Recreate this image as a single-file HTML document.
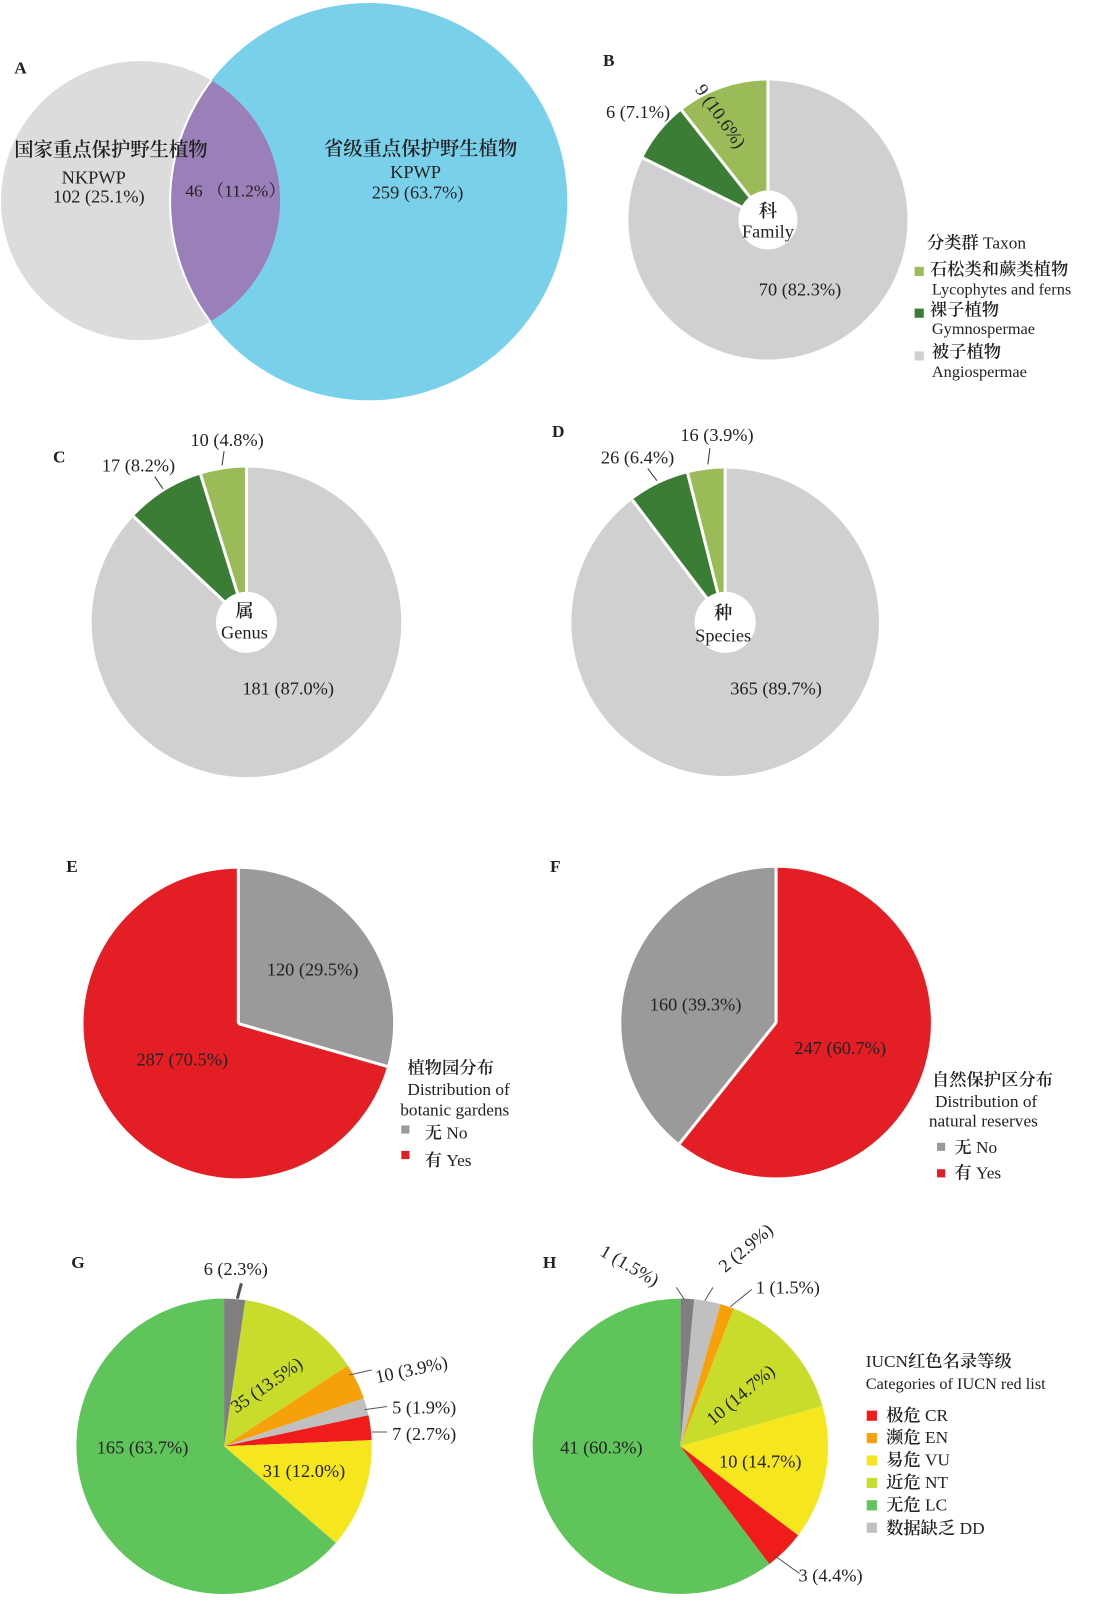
<!DOCTYPE html>
<html><head><meta charset="utf-8"><style>
html,body{margin:0;padding:0;background:#fff;}
svg{display:block;font-family:"Liberation Serif","Noto Serif CJK SC",serif;}
text{fill:#222;}
.cj{font-weight:600;}
</style></head><body>
<svg width="1100" height="1600" viewBox="0 0 1100 1600" xmlns="http://www.w3.org/2000/svg">
<g transform="scale(1.0185)">
<!-- A Venn -->
<circle cx="138" cy="197" r="137" fill="#dcdcdc"/>
<circle cx="362" cy="198" r="195" fill="#79d0ea"/>
<clipPath id="cg"><circle cx="138" cy="197" r="137"/></clipPath>
<circle cx="362" cy="198" r="195" fill="#9a7fb8" clip-path="url(#cg)" stroke="#fff" stroke-width="2"/>
<text x="14" y="72" font-size="17" font-weight="bold">A</text>
<text x="14" y="153" font-size="19" class="cj">国家重点保护野生植物</text>
<text x="92" y="180" font-size="18" text-anchor="middle">NKPWP</text>
<text x="97" y="199" font-size="18" text-anchor="middle">102 (25.1%)</text>
<text x="182" y="193" font-size="17">46 （11.2%）</text>
<text x="318" y="152" font-size="19" class="cj">省级重点保护野生植物</text>
<text x="408" y="175" font-size="18" text-anchor="middle">KPWP</text>
<text x="410" y="195" font-size="18" text-anchor="middle">259 (63.7%)</text>

<!-- B -->
<g transform="rotate(-90 754 216)" fill="none" stroke-width="137">
<circle cx="754" cy="216" r="68.5" stroke="#d0d0d0" stroke-dasharray="354.2 500" stroke-dashoffset="0"/>
<circle cx="754" cy="216" r="68.5" stroke="#3c7d36" stroke-dasharray="30.6 500" stroke-dashoffset="-354.2"/>
<circle cx="754" cy="216" r="68.5" stroke="#9bbb59" stroke-dasharray="45.6 500" stroke-dashoffset="-384.8"/>
</g>
<g stroke="#fff" stroke-width="3"><line x1="754" y1="216" x2="754" y2="79"/><line x1="754" y1="216" x2="631" y2="155"/><line x1="754" y1="216" x2="669" y2="108"/></g>
<circle cx="754" cy="216" r="29" fill="#fff"/>
<text x="592" y="65" font-size="17" font-weight="bold">B</text>
<text x="754" y="213" font-size="18" text-anchor="middle" class="cj">科</text>
<text x="754" y="233" font-size="18" text-anchor="middle">Family</text>
<text x="595" y="116" font-size="18">6 (7.1%)</text>
<text x="682" y="88" font-size="18" transform="rotate(55 682 88)">9 (10.6%)</text>
<text x="745" y="290" font-size="18">70 (82.3%)</text>
<text x="910" y="244" font-size="17"><tspan class="cj">分类群</tspan> Taxon</text>
<rect x="898" y="262" width="9" height="9" fill="#9bbb59"/>
<text x="913" y="270" font-size="17" class="cj">石松类和蕨类植物</text>
<text x="915" y="289" font-size="16">Lycophytes and ferns</text>
<rect x="898" y="303" width="9" height="9" fill="#3c7d36"/>
<text x="913" y="310" font-size="17" class="cj">裸子植物</text>
<text x="915" y="328" font-size="16">Gymnospermae</text>
<rect x="898" y="345" width="9" height="9" fill="#d0d0d0"/>
<text x="915" y="351" font-size="17" class="cj">被子植物</text>
<text x="915" y="370" font-size="16">Angiospermae</text>

<!-- C -->
<g transform="rotate(-90 242 611)" fill="none" stroke-width="152">
<circle cx="242" cy="611" r="76" stroke="#d0d0d0" stroke-dasharray="415.4 600"/>
<circle cx="242" cy="611" r="76" stroke="#3c7d36" stroke-dasharray="39.2 600" stroke-dashoffset="-415.4"/>
<circle cx="242" cy="611" r="76" stroke="#9bbb59" stroke-dasharray="22.9 600" stroke-dashoffset="-454.6"/>
</g>
<g stroke="#fff" stroke-width="3"><line x1="242" y1="611" x2="242" y2="459"/><line x1="242" y1="611" x2="131" y2="507"/><line x1="242" y1="611" x2="197" y2="466"/></g>
<circle cx="242" cy="611" r="30" fill="#fff"/>
<text x="52" y="454" font-size="17" font-weight="bold">C</text>
<text x="240" y="606" font-size="18" text-anchor="middle" class="cj">属</text>
<text x="240" y="627" font-size="18" text-anchor="middle">Genus</text>
<text x="100" y="463" font-size="18">17 (8.2%)</text>
<text x="187" y="438" font-size="18">10 (4.8%)</text>
<path d="M152 468 L160 480 M220 443 L218 457" stroke="#333" fill="none"/>
<text x="238" y="682" font-size="18">181 (87.0%)</text>

<!-- D -->
<g transform="rotate(-90 712 611)" fill="none" stroke-width="151">
<circle cx="712" cy="611" r="75.5" stroke="#d0d0d0" stroke-dasharray="425.5 600"/>
<circle cx="712" cy="611" r="75.5" stroke="#3c7d36" stroke-dasharray="30.4 600" stroke-dashoffset="-425.5"/>
<circle cx="712" cy="611" r="75.5" stroke="#9bbb59" stroke-dasharray="18.5 600" stroke-dashoffset="-455.9"/>
</g>
<g stroke="#fff" stroke-width="3"><line x1="712" y1="611" x2="712" y2="460"/><line x1="712" y1="611" x2="621" y2="491"/><line x1="712" y1="611" x2="675" y2="464"/></g>
<circle cx="712" cy="611" r="30" fill="#fff"/>
<text x="542" y="429" font-size="17" font-weight="bold">D</text>
<text x="710" y="608" font-size="18" text-anchor="middle" class="cj">种</text>
<text x="710" y="630" font-size="18" text-anchor="middle">Species</text>
<text x="590" y="455" font-size="18">26 (6.4%)</text>
<text x="668" y="433" font-size="18">16 (3.9%)</text>
<path d="M636 460 L645 472 M697 440 L695 456" stroke="#333" fill="none"/>
<text x="717" y="682" font-size="18">365 (89.7%)</text>

<!-- E -->
<g transform="rotate(-90 234 1005)" fill="none" stroke-width="152">
<circle cx="234" cy="1005" r="76" stroke="#9a9a9a" stroke-dasharray="140.9 600"/>
<circle cx="234" cy="1005" r="76" stroke="#e31e24" stroke-dasharray="336.6 600" stroke-dashoffset="-140.9"/>
</g>
<g stroke="#fff" stroke-width="3"><line x1="234" y1="1005" x2="234" y2="853"/><line x1="234" y1="1005" x2="380" y2="1047"/></g>
<text x="65" y="856" font-size="17" font-weight="bold">E</text>
<text x="262" y="958" font-size="18">120 (29.5%)</text>
<text x="134" y="1046" font-size="18">287 (70.5%)</text>
<text x="400" y="1054" font-size="17" class="cj">植物园分布</text>
<text x="400" y="1075" font-size="17">Distribution of</text>
<text x="393" y="1095" font-size="17">botanic gardens</text>
<rect x="394" y="1105" width="8" height="8" fill="#9a9a9a"/>
<text x="417" y="1118" font-size="17"><tspan class="cj">无</tspan> No</text>
<rect x="394" y="1130" width="8" height="8" fill="#e31e24"/>
<text x="417" y="1145" font-size="17"><tspan class="cj">有</tspan>  Yes</text>

<!-- F -->
<g transform="rotate(-90 762 1004)" fill="none" stroke-width="152">
<circle cx="762" cy="1004" r="76" stroke="#e31e24" stroke-dasharray="289.8 600"/>
<circle cx="762" cy="1004" r="76" stroke="#9a9a9a" stroke-dasharray="187.7 600" stroke-dashoffset="-289.8"/>
</g>
<g stroke="#fff" stroke-width="3"><line x1="762" y1="1004" x2="762" y2="852"/><line x1="762" y1="1004" x2="667" y2="1123"/></g>
<text x="540" y="856" font-size="17" font-weight="bold">F</text>
<text x="638" y="992" font-size="18">160 (39.3%)</text>
<text x="780" y="1035" font-size="18">247 (60.7%)</text>
<text x="915" y="1066" font-size="17" class="cj">自然保护区分布</text>
<text x="918" y="1087" font-size="17">Distribution of</text>
<text x="912" y="1106" font-size="17">natural reserves</text>
<rect x="920" y="1122" width="8" height="8" fill="#9a9a9a"/>
<text x="937" y="1132" font-size="17"><tspan class="cj">无</tspan> No</text>
<rect x="920" y="1148" width="8" height="8" fill="#e31e24"/>
<text x="937" y="1157" font-size="17"><tspan class="cj">有</tspan>  Yes</text>

<!-- G -->
<g transform="rotate(-90 220 1420)" fill="none" stroke-width="145">
<circle cx="220" cy="1420" r="72.5" stroke="#7f7f7f" stroke-dasharray="10.5 600"/>
<circle cx="220" cy="1420" r="72.5" stroke="#c8dc2c" stroke-dasharray="61.5 600" stroke-dashoffset="-10.5"/>
<circle cx="220" cy="1420" r="72.5" stroke="#f7a10a" stroke-dasharray="17.8 600" stroke-dashoffset="-72"/>
<circle cx="220" cy="1420" r="72.5" stroke="#c0c0c0" stroke-dasharray="8.7 600" stroke-dashoffset="-89.8"/>
<circle cx="220" cy="1420" r="72.5" stroke="#f01c1c" stroke-dasharray="12.3 600" stroke-dashoffset="-98.5"/>
<circle cx="220" cy="1420" r="72.5" stroke="#f5e61e" stroke-dasharray="54.7 600" stroke-dashoffset="-110.8"/>
<circle cx="220" cy="1420" r="72.5" stroke="#5fc45a" stroke-dasharray="290.2 600" stroke-dashoffset="-165.5"/>
</g>
<text x="70" y="1245" font-size="17" font-weight="bold">G</text>
<text x="200" y="1252" font-size="18">6 (2.3%)</text>
<path d="M237 1260 L233 1275" stroke="#555" stroke-width="3" fill="none"/>
<text x="232" y="1388" font-size="18" transform="rotate(-35 232 1388)">35 (13.5%)</text>
<text x="370" y="1358" font-size="18" transform="rotate(-12 370 1358)">10 (3.9%)</text>
<text x="385" y="1388" font-size="18">5 (1.9%)</text>
<text x="385" y="1414" font-size="18">7 (2.7%)</text>
<path d="M343 1350 L365 1345 M358 1384 L380 1381 M365 1406 L380 1406" stroke="#555" fill="none"/>
<text x="258" y="1450" font-size="18">31 (12.0%)</text>
<text x="95" y="1427" font-size="18">165 (63.7%)</text>

<!-- H -->
<g transform="rotate(-90 668 1420)" fill="none" stroke-width="145">
<circle cx="668" cy="1420" r="72.5" stroke="#7f7f7f" stroke-dasharray="6.8 600"/>
<circle cx="668" cy="1420" r="72.5" stroke="#c0c0c0" stroke-dasharray="13.2 600" stroke-dashoffset="-6.8"/>
<circle cx="668" cy="1420" r="72.5" stroke="#f7a10a" stroke-dasharray="6.8 600" stroke-dashoffset="-20"/>
<circle cx="668" cy="1420" r="72.5" stroke="#c8dc2c" stroke-dasharray="67 600" stroke-dashoffset="-26.8"/>
<circle cx="668" cy="1420" r="72.5" stroke="#f5e61e" stroke-dasharray="67 600" stroke-dashoffset="-93.8"/>
<circle cx="668" cy="1420" r="72.5" stroke="#f01c1c" stroke-dasharray="20 600" stroke-dashoffset="-160.8"/>
<circle cx="668" cy="1420" r="72.5" stroke="#5fc45a" stroke-dasharray="274.7 600" stroke-dashoffset="-180.8"/>
</g>
<text x="533" y="1245" font-size="17" font-weight="bold">H</text>
<text x="588" y="1232" font-size="18" transform="rotate(30 588 1232)">1 (1.5%)</text>
<text x="712" y="1250" font-size="18" transform="rotate(-40 712 1250)">2 (2.9%)</text>
<text x="742" y="1270" font-size="18">1 (1.5%)</text>
<path d="M664 1264 L672 1276 M700 1264 L692 1277 M738 1266 L717 1283" stroke="#555" fill="none"/>
<text x="700" y="1400" font-size="18" transform="rotate(-40 700 1400)">10 (14.7%)</text>
<text x="706" y="1441" font-size="18">10 (14.7%)</text>
<text x="550" y="1427" font-size="18">41 (60.3%)</text>
<text x="784" y="1553" font-size="18">3 (4.4%)</text>
<path d="M760 1527 L785 1545" stroke="#555" fill="none"/>
<text x="850" y="1342" font-size="17">IUCN<tspan class="cj">红色名录等级</tspan></text>
<text x="850" y="1364" font-size="16">Categories of IUCN red list</text>
<rect x="851" y="1385" width="10" height="10" fill="#f01c1c"/><text x="870" y="1395" font-size="17"><tspan class="cj">极危</tspan>  CR</text>
<rect x="851" y="1407" width="10" height="10" fill="#f7a10a"/><text x="870" y="1417" font-size="17"><tspan class="cj">濒危</tspan>  EN</text>
<rect x="851" y="1429" width="10" height="10" fill="#f5e61e"/><text x="870" y="1439" font-size="17"><tspan class="cj">易危</tspan>  VU</text>
<rect x="851" y="1451" width="10" height="10" fill="#c8dc2c"/><text x="870" y="1461" font-size="17"><tspan class="cj">近危</tspan>  NT</text>
<rect x="851" y="1473" width="10" height="10" fill="#5fc45a"/><text x="870" y="1483" font-size="17"><tspan class="cj">无危</tspan> LC</text>
<rect x="851" y="1495" width="10" height="10" fill="#c0c0c0"/><text x="870" y="1506" font-size="17"><tspan class="cj">数据缺乏</tspan>  DD</text>
</g>
</svg>
</body></html>
